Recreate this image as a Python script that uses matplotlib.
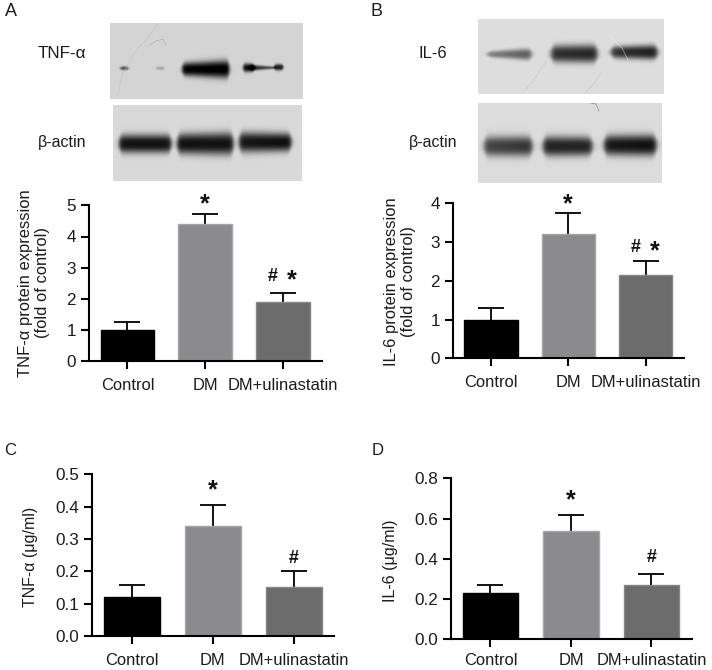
import numpy as np
import matplotlib
matplotlib.use('Agg')
import matplotlib.pyplot as plt

plt.rcParams['font.family'] = ['Liberation Sans', 'DejaVu Sans']

W, H = 712, 670
TEXT = '#1c1c1c'

groups = ['Control', 'DM', 'DM+ulinastatin']
bar_colors = ['#000000', '#8b8b8f', '#6c6c6c']
edge_colors = ['#000000', '#a6a6a9', '#858585']

tnf_blot_mean = [1.0, 4.4, 1.9]
tnf_blot_top = [1.25, 4.73, 2.2]
il6_blot_mean = [1.0, 3.2, 2.15]
il6_blot_top = [1.3, 3.75, 2.5]
tnf_conc_mean = [0.12, 0.34, 0.15]
tnf_conc_top = [0.158, 0.405, 0.2]
il6_conc_mean = [0.23, 0.54, 0.27]
il6_conc_top = [0.272, 0.62, 0.322]

tnf_blot_ticks = [0, 1, 2, 3, 4, 5]
il6_blot_ticks = [0, 1, 2, 3, 4]
tnf_conc_ticks = [0.0, 0.1, 0.2, 0.3, 0.4, 0.5]
il6_conc_ticks = [0.0, 0.2, 0.4, 0.6, 0.8]


def px_axes(fig, left, top, right, bottom):
    return fig.add_axes([left / W, 1 - bottom / H, (right - left) / W, (bottom - top) / H])


def px_text(fig, x, y, s, **kw):
    kw.setdefault('ha', 'center')
    kw.setdefault('va', 'center')
    kw.setdefault('color', TEXT)
    fig.text(x / W, 1 - y / H, s, **kw)


# 条带：左右两端可以有不同的厚度和深浅，两头收圆
def add_band(img, xx, yy, x0, x1, y, h0, h1, d0, d1, soft=2.5):
    t = np.clip((xx - x0) / (x1 - x0), 0, 1)
    half = h0 + (h1 - h0) * t
    dark = d0 + (d1 - d0) * t
    ends = 0.5 * (np.tanh((xx - x0) / soft) - np.tanh((xx - x1) / soft))
    half = half * (0.45 + 0.55 * ends)
    across = np.exp(-np.abs((yy - y) / half) ** 2.6)
    return img - dark * ends * across


def draw_blot(fig, left, top, right, bottom, bg, bands, scratches=()):
    ax = px_axes(fig, left, top, right, bottom)
    xs = np.arange(left, right, 0.5)
    ys = np.arange(top, bottom, 0.5)
    xx, yy = np.meshgrid(xs, ys)
    img = np.full(xx.shape, bg, dtype=float)
    for b in bands:
        img = add_band(img, xx, yy, *b)
    ax.imshow(np.clip(img, 0, 1), cmap='gray', vmin=0, vmax=1, aspect='auto',
              extent=[left, right, bottom, top], interpolation='bilinear')
    for sx, sy, col in scratches:
        ax.plot(sx, sy, color=col, lw=0.5, alpha=0.6)
    ax.set_xlim(left, right)
    ax.set_ylim(bottom, top)
    ax.axis('off')


def draw_bars(fig, box, means, tops, ticks, fmt, marks, xpad=6.5):
    ax = px_axes(fig, *box)
    x = np.arange(len(groups))
    ax.bar(x, means, width=0.69, color=bar_colors, edgecolor=edge_colors, linewidth=1.0, zorder=2)
    for xi, m, t in zip(x, means, tops):
        ax.plot([xi, xi], [m, t], color='#111111', lw=1.4, zorder=1)
        ax.plot([xi], [t], marker='_', ms=19, mew=1.4, color='#111111', zorder=1, clip_on=False)
    ax.set_xlim(-0.49, 2.5)
    ax.set_ylim(0, ticks[-1])
    ax.set_xticks(x)
    ax.set_xticklabels(groups)
    ax.set_yticks(ticks)
    ax.set_yticklabels([fmt % t for t in ticks])
    ax.tick_params(axis='x', length=5.5, width=1.5, pad=xpad, labelsize=11.9, labelcolor=TEXT)
    ax.tick_params(axis='y', length=5.5, width=1.5, pad=4, labelsize=12.3, labelcolor=TEXT)
    for side in ['top', 'right']:
        ax.spines[side].set_visible(False)
    for side in ['left', 'bottom']:
        ax.spines[side].set_linewidth(1.5)
    # 显著性标记：dx, up 是符号中心相对误差线顶端的像素偏移
    for xi, t, s, dx, up in marks:
        if s == '*':
            size, rise = 18, 12.5
        else:
            size, rise = 13, 6.5
        ax.annotate(s, (xi, t), xytext=(dx * 0.72, (up - rise) * 0.72), textcoords='offset points',
                    ha='center', va='baseline', fontsize=size, fontweight='bold', color='#111111',
                    annotation_clip=False)
    return ax


fig = plt.figure(figsize=(W / 100, H / 100), dpi=100)

# 印迹图
draw_blot(fig, 110, 23, 303, 99, 0.83, [
    (120, 128, 68, 2.0, 2.0, 0.5, 0.5, 1.5),
    (156, 164, 68, 1.6, 1.6, 0.2, 0.2, 1.5),
    (182, 229, 69, 6.5, 9.0, 0.82, 0.86, 2.0),
    (243, 254, 67.5, 4.5, 4.0, 0.78, 0.78, 1.5),
    (250, 275, 67.5, 3.0, 1.2, 0.7, 0.45, 1.5),
    (274, 283, 67, 3.2, 3.2, 0.72, 0.72, 1.2),
], [
    ([118, 122, 135, 150, 158], [95, 75, 52, 35, 23], '#bbbbbb'),
    ([150, 156, 163, 166], [45, 41, 39, 45], '#999999'),
])
draw_blot(fig, 113, 105, 302, 181, 0.85, [
    (119, 171, 144, 9.0, 9.0, 0.78, 0.78, 2.5),
    (177, 233, 144, 10.0, 11.0, 0.78, 0.78, 2.5),
    (239, 291, 142.5, 10.0, 9.0, 0.76, 0.8, 2.5),
])
draw_blot(fig, 478, 19, 664, 94, 0.87, [
    (487, 531, 54, 3.0, 6.0, 0.35, 0.52, 3.0),
    (551, 597, 53.5, 8.5, 9.0, 0.68, 0.72, 3.0),
    (611, 657, 52, 6.0, 7.5, 0.66, 0.76, 3.0),
], [
    ([523, 530, 546], [92, 85, 62], '#bbbbbb'),
    ([586, 595, 602], [92, 82, 72], '#bbbbbb'),
    ([610, 622, 628], [36, 48, 60], '#f2f2f2'),
])
draw_blot(fig, 478, 103, 662, 183, 0.86, [
    (484, 532, 146, 10.0, 10.0, 0.58, 0.66, 3.0),
    (543, 592, 146, 10.0, 9.5, 0.72, 0.72, 3.0),
    (604, 656, 145, 10.0, 10.5, 0.76, 0.8, 3.0),
], [
    ([590, 596, 599], [103, 104, 111], '#555555'),
])

# 柱状图
draw_bars(fig, (89.3, 205.3, 321.7, 361.3), tnf_blot_mean, tnf_blot_top, tnf_blot_ticks, '%d',
          [(1, tnf_blot_top[1], '*', 0, 14.7), (2, tnf_blot_top[2], '#', -10.4, 17.7), (2, tnf_blot_top[2], '*', 9, 17.7)])
draw_bars(fig, (453, 203.3, 684.3, 358.3), il6_blot_mean, il6_blot_top, il6_blot_ticks, '%d',
          [(1, il6_blot_top[1], '*', 0, 13.7), (2, il6_blot_top[2], '#', -10.4, 15.6), (2, il6_blot_top[2], '*', 9, 15.6)])
draw_bars(fig, (92.3, 474.3, 334.3, 636), tnf_conc_mean, tnf_conc_top, tnf_conc_ticks, '%.1f',
          [(1, tnf_conc_top[1], '*', 0, 20), (2, tnf_conc_top[2], '#', 0, 15)])
draw_bars(fig, (451, 478.3, 691.7, 639.3), il6_conc_mean, il6_conc_top, il6_conc_ticks, '%.1f',
          [(1, il6_conc_top[1], '*', 0, 19.3), (2, il6_conc_top[2], '#', 0, 18.7)], xpad=4.5)

# 面板字母和文字标签
px_text(fig, 10.7, 11.7, 'A', fontsize=13)
px_text(fig, 376.7, 11.2, 'B', fontsize=13)
px_text(fig, 10.3, 450.7, 'C', fontsize=12)
px_text(fig, 377.7, 450.7, 'D', fontsize=12)
px_text(fig, 61.7, 54, 'TNF-α', fontsize=12.3)
px_text(fig, 61.7, 143, 'β-actin', fontsize=11.5)
px_text(fig, 432.7, 54, 'IL-6', fontsize=12)
px_text(fig, 433.3, 143, 'β-actin', fontsize=11.5)

px_text(fig, 34, 283, 'TNF-α protein expression\n(fold of control)', rotation=90, fontsize=11.9,
        multialignment='center', linespacing=1.15)
px_text(fig, 400, 282, 'IL-6 protein expression\n(fold of control)', rotation=90, fontsize=11.9,
        multialignment='center', linespacing=1.15)
px_text(fig, 30, 557, 'TNF-α (μg/ml)', rotation=90, fontsize=11.5)
px_text(fig, 390.3, 561, 'IL-6 (μg/ml)', rotation=90, fontsize=11.5)

fig.savefig('out.png', dpi=100)
plt.close(fig)
